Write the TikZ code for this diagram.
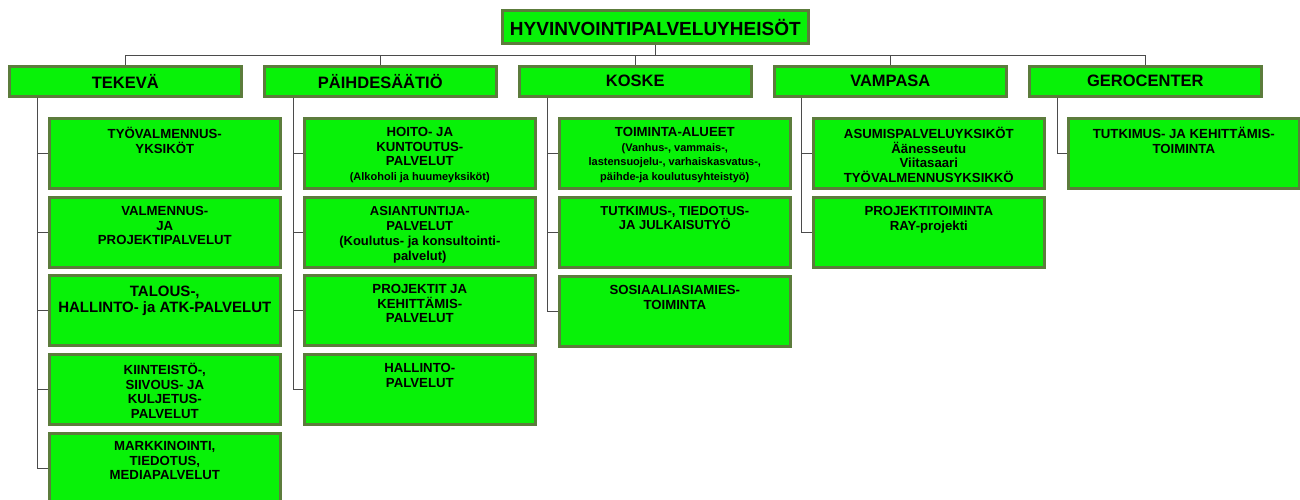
\documentclass[tikz,border=0pt]{standalone}
\usepackage{fontspec}
\setmainfont{Liberation Sans}
\definecolor{boxg}{RGB}{8,242,8}
\definecolor{bordc}{RGB}{92,124,60}
\definecolor{linec}{RGB}{75,75,75}
\begin{document}
\begin{tikzpicture}[x=1pt,y=-1pt,
  gbox/.style={draw=bordc, line width=2.6pt, fill=boxg, inner sep=0, anchor=north west},
  lone/.style={gbox, minimum width=232pt, minimum height=30pt},
  kid/.style={gbox, minimum width=231pt, minimum height=70pt},
  txt/.style={anchor=north, inner sep=0, align=center, font=\bfseries\fontsize{13.2}{14.6}\selectfont, execute at begin node={\vphantom{ÄÖ}}},
  ltxt/.style={txt, font=\bfseries\fontsize{15}{16}\selectfont},
  htxt/.style={font=\bfseries\fontsize{16.5}{18}\selectfont, inner sep=0},
  conn/.style={draw=linec, line width=1pt}]
\useasboundingbox (0,0) rectangle (1300,500);
\newcommand{\sm}[1]{{\fontsize{11}{13.5}\selectfont #1}}
% top
\node[gbox, minimum width=306pt, minimum height=33pt] (top) at (501,9.5) {};
\node[anchor=center, inner sep=0, font=\bfseries\fontsize{19}{20}\selectfont] (topt) at (top.center) {HYVINVOINTIPALVELUYHEISÖT};
% level 1
\node[lone] (a) at (8,65) {};
\node[lone] (b) at (263,65) {};
\node[lone] (c) at (518,65) {};
\node[lone] (d) at (773,65) {};
\node[lone] (e) at (1028,65) {};
\node[htxt] (at) at (a.center) {TEKEVÄ};
\node[htxt] (bt) at (b.center) {PÄIHDESÄÄTIÖ};
\node[htxt] (ct) at (c.center) {KOSKE};
\node[htxt] (dt) at (d.center) {VAMPASA};
\node[htxt] (et) at (e.center) {GEROCENTER};
% top connectors
\foreach \n in {a,b,c,d,e}{\draw[conn] (top.south) -- ++(0,10) -| (\n.north);}
% TEKEVA children
\node[kid] (a1) at (48,117) {};
\node[kid] (a2) at (48,196) {};
\node[kid] (a3) at (48,274) {};
\node[kid] (a4) at (48,353) {};
\node[kid] (a5) at (48,432) {};
\node[txt] (a1t) at ([yshift=-10pt]a1.north) {TYÖVALMENNUS-\\YKSIKÖT};
\node[txt] (a2t) at ([yshift=-10pt]a2.north) {VALMENNUS-\\JA\\PROJEKTIPALVELUT};
\node[ltxt] (a3t) at ([yshift=-12pt]a3.north) {TALOUS-,\\HALLINTO- ja ATK-PALVELUT};
\node[txt] (a4t) at ([yshift=-10pt]a4.north) {KIINTEISTÖ-,\\SIIVOUS- JA\\KULJETUS-\\PALVELUT};
\node[txt] (a5t) at ([yshift=-9pt]a5.north) {MARKKINOINTI,\\TIEDOTUS,\\MEDIAPALVELUT};
% PAIHDESAATIO children
\node[kid] (b1) at (303,117) {};
\node[kid] (b2) at (303,196) {};
\node[kid] (b3) at (303,274) {};
\node[kid] (b4) at (303,353) {};
\node[txt] (b1t) at ([yshift=-10pt]b1.north) {HOITO- JA\\KUNTOUTUS-\\PALVELUT\\\sm{(Alkoholi ja huumeyksiköt)}};
\node[txt, font=\bfseries\fontsize{13}{15}\selectfont] (b2t) at ([yshift=-10pt]b2.north) {ASIANTUNTIJA-\\PALVELUT\\(Koulutus- ja konsultointi-\\palvelut)};
\node[txt] (b3t) at ([yshift=-10pt]b3.north) {PROJEKTIT JA\\KEHITTÄMIS-\\PALVELUT};
\node[txt] (b4t) at ([yshift=-10pt]b4.north) {HALLINTO-\\PALVELUT};
% KOSKE children
\node[kid] (c1) at (558,117) {};
\node[kid] (c2) at (558,196) {};
\node[kid] (c3) at (558,275) {};
\node[txt] (c1t) at ([yshift=-10pt]c1.north) {TOIMINTA-ALUEET\\\sm{(Vanhus-, vammais-,}\\\sm{lastensuojelu-, varhaiskasvatus-,}\\\sm{päihde-ja koulutusyhteistyö)}};
\node[txt, font=\bfseries\fontsize{13}{14}\selectfont] (c2t) at ([yshift=-10pt]c2.north) {TUTKIMUS-, TIEDOTUS-\\JA JULKAISUTYÖ};
\node[txt] (c3t) at ([yshift=-10pt]c3.north) {SOSIAALIASIAMIES-\\TOIMINTA};
% VAMPASA children
\node[kid] (d1) at (812,117) {};
\node[kid] (d2) at (812,196) {};
\node[txt] (d1t) at ([yshift=-10pt]d1.north) {ASUMISPALVELUYKSIKÖT\\Äänesseutu\\Viitasaari\\TYÖVALMENNUSYKSIKKÖ};
\node[txt] (d2t) at ([yshift=-10pt]d2.north) {PROJEKTITOIMINTA\\RAY-projekti};
% GEROCENTER child
\node[kid] (e1) at (1067,117) {};
\node[txt] (e1t) at ([yshift=-10pt]e1.north) {TUTKIMUS- JA KEHITTÄMIS-\\TOIMINTA};
% child connectors
\foreach \k in {a1,a2,a3,a4,a5}{\draw[conn] ([xshift=29pt]a.south west) |- (\k.west);}
\foreach \k in {b1,b2,b3,b4}{\draw[conn] ([xshift=30pt]b.south west) |- (\k.west);}
\foreach \k in {c1,c2,c3}{\draw[conn] ([xshift=29pt]c.south west) |- (\k.west);}
\foreach \k in {d1,d2}{\draw[conn] ([xshift=28pt]d.south west) |- (\k.west);}
\draw[conn] ([xshift=29pt]e.south west) |- (e1.west);
\end{tikzpicture}
\end{document}
